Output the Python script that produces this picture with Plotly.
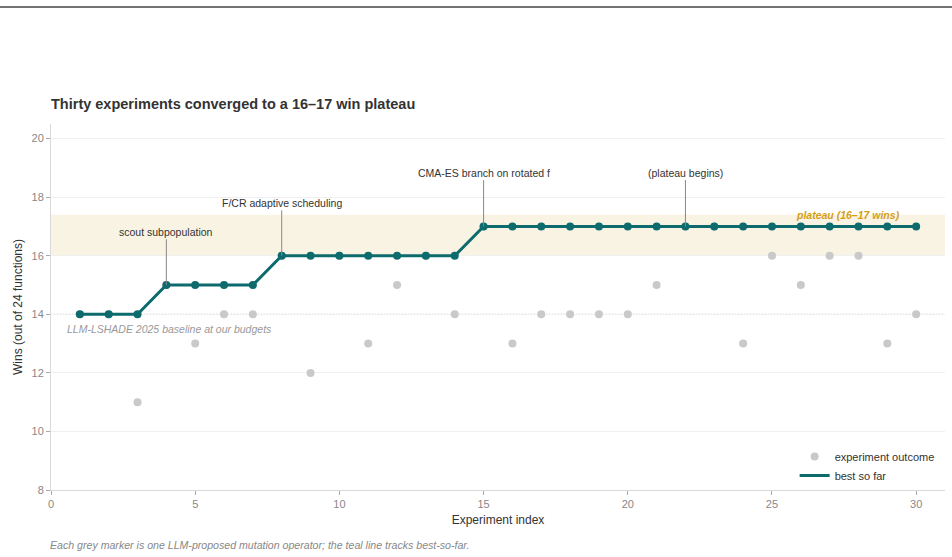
import plotly.graph_objects as go

experiments = list(range(1, 31))
outcomes = [14, 14, 11, 15, 13, 14, 14, 16, 12, 16,
            13, 15, 16, 14, 17, 13, 14, 14, 14, 14,
            15, 17, 17, 13, 16, 15, 16, 16, 13, 14]
best_so_far = []
_b = None
for v in outcomes:
    _b = v if _b is None else max(_b, v)
    best_so_far.append(_b)

baseline = 14
plateau_low, plateau_high = 16, 17.4
milestones_x = [4, 8, 15, 22]
milestones_label = ["scout subpopulation", "F/CR adaptive scheduling",
                    "CMA-ES branch on rotated f", "(plateau begins)"]
milestones_text_y = [16.82, 17.81, 18.84, 18.84]

TEAL = "#0d6b6e"
GREY = "#c9c9c9"
FONT = "Liberation Sans, Arial, sans-serif"

fig = go.Figure()

fig.add_trace(go.Scatter(
    x=experiments, y=outcomes, mode="markers",
    marker=dict(color=GREY, size=8),
    name="experiment outcome", hoverinfo="x+y"))

fig.add_trace(go.Scatter(
    x=experiments, y=best_so_far, mode="lines",
    line=dict(color=TEAL, width=3),
    name="best so far"))

fig.add_trace(go.Scatter(
    x=experiments, y=best_so_far, mode="markers",
    marker=dict(color=TEAL, size=8),
    showlegend=False))

# plateau band
fig.add_shape(type="rect", xref="paper", x0=0, x1=1, yref="y",
              y0=plateau_low, y1=plateau_high,
              fillcolor="#f8f3e3", line=dict(width=0), layer="below")
# baseline
fig.add_shape(type="line", xref="paper", x0=0, x1=1, yref="y",
              y0=baseline, y1=baseline,
              line=dict(color="#8f8f8f", width=1, dash="1px,2px"), layer="below")
# top rule
fig.add_shape(type="line", xref="paper", yref="paper",
              x0=-51/894, x1=1+7/894, y0=1+117/366, y1=1+117/366,
              line=dict(color="#444444", width=1.5))

fig.add_annotation(x=0.5, y=13.5, text="<i>LLM-LSHADE 2025 baseline at our budgets</i>",
                   showarrow=False, xanchor="left", yanchor="middle",
                   font=dict(family=FONT, size=10.5, color="#999999"))
fig.add_annotation(x=29.5, y=17.4, text="<b><i>plateau (16–17 wins)</i></b>",
                   showarrow=False, xanchor="right", yanchor="middle",
                   font=dict(family=FONT, size=10.5, color="#d4a017"))

for mx, ml, ty in zip(milestones_x, milestones_label, milestones_text_y):
    fig.add_annotation(x=mx, y=best_so_far[mx - 1], ax=mx, ay=ty,
                       axref="x", ayref="y", text=ml,
                       showarrow=True, arrowhead=0, arrowwidth=1,
                       arrowcolor="#888888", standoff=0,
                       font=dict(family=FONT, size=10.5, color="#333333"))

fig.add_annotation(xref="paper", yref="paper", x=-3/894, y=-(545-490)/366,
                   text="<i>Each grey marker is one LLM-proposed mutation operator; the teal line tracks best-so-far.</i>",
                   showarrow=False, xanchor="left", yanchor="middle",
                   font=dict(family=FONT, size=10.6, color="#888888"))

fig.update_layout(
    width=952, height=557,
    margin=dict(l=51, r=7, t=124, b=67),
    paper_bgcolor="white", plot_bgcolor="white",
    font=dict(family=FONT, color="#333333"),
    title=dict(text="<b>Thirty experiments converged to a 16–17 win plateau</b>",
               x=51/952, xanchor="left", xref="container",
               y=1-104/557, yanchor="middle", yref="container",
               font=dict(family=FONT, size=14.5, color="#333333")),
    legend=dict(x=0.994, y=0.0, xanchor="right", yanchor="bottom",
                bgcolor="rgba(0,0,0,0)",
                font=dict(family=FONT, size=11, color="#333333"),
                itemwidth=30, tracegroupgap=0),
    showlegend=True,
)

fig.update_xaxes(range=[0, 31], tickvals=[0, 5, 10, 15, 20, 25, 30],
                 showgrid=False, zeroline=False,
                 showline=True, linecolor="#d9d9d9", linewidth=1,
                 ticks="outside", ticklen=4, tickcolor="#aaaaaa",
                 tickfont=dict(family=FONT, size=11, color="#888888"),
                 title=dict(text="Experiment index", standoff=6,
                            font=dict(family=FONT, size=12, color="#333333")))
fig.update_yaxes(range=[8, 20.5], tickvals=[8, 10, 12, 14, 16, 18, 20],
                 showgrid=True, gridcolor="#f0f0f0", zeroline=False,
                 showline=True, linecolor="#d9d9d9", linewidth=1,
                 ticks="outside", ticklen=4, tickcolor="#aaaaaa",
                 tickfont=dict(family=FONT, size=11, color="#888888"),
                 title=dict(text="Wins (out of 24 functions)", standoff=6,
                            font=dict(family=FONT, size=12, color="#333333")))

fig.write_html("out.html")
